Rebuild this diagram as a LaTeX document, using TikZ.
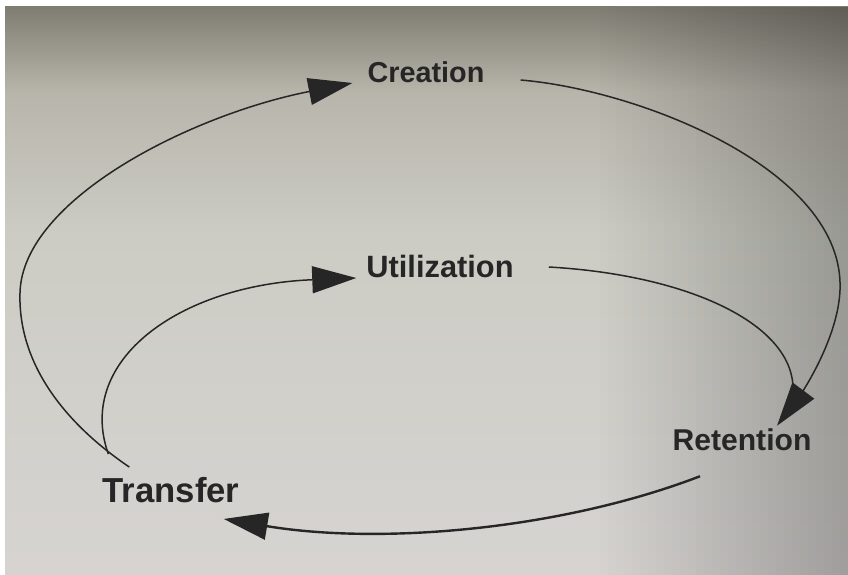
\documentclass[tikz,border=0pt]{standalone}
\usepackage{fontspec}
\setmainfont{Liberation Sans}
\usetikzlibrary{arrows.meta}
\definecolor{ink}{RGB}{38,38,38}
\pgfdeclareverticalshading{screen}{100bp}{rgb(0bp)=(0.84,0.83,0.82); rgb(25bp)=(0.84,0.83,0.82); rgb(55bp)=(0.80,0.80,0.77); rgb(67.5bp)=(0.72,0.71,0.67); rgb(75bp)=(0.50,0.49,0.45); rgb(100bp)=(0.50,0.49,0.45)}

\begin{document}
\begin{tikzpicture}[x=1pt, y=-1pt,
        lbl/.style={font=\bfseries\fontsize{#1}{#1}\selectfont, text=ink, inner sep=0pt},
        flow/.style={draw=ink, line width=1.5pt, -{Triangle[length=44pt,width=27pt]}}
    ]
    \useasboundingbox (0,0) rectangle (848,575);
    \fill[white] (0,0) rectangle (848,575);
    \shade[shading=screen] (5,7) rectangle (848,575);
    \foreach \i [evaluate=\i as \op using 0.008*\i] in {1,...,31}
        \fill[black, opacity=\op] (592+8*\i,7) rectangle +(8,568);

    \node[lbl=28.8] (creation) at (426,72) {Creation};
    \node[lbl=30.8] (utilization) at (440,266) {Utilization};
    \node[lbl=30.1] (retention) at (742,440) {Retention};
    \node[lbl=34.7] (transfer) at (171,490) {Transfer};

    \draw[flow] ([shift={(36,8)}]creation.east) .. controls (640,90) and (845,170) .. (840,290)
        .. controls (838,340) and (800,395) .. ([shift={(35,-3)}]retention.north);
    \draw[ink, line width=1.5pt] ([shift={(35,1)}]utilization.east) .. controls (690,275) and (795,325) .. ([shift={(51,-38)}]retention.north);
    \draw[flow, line width=2.4pt] ([shift={(-42,25)}]retention.south) .. controls (560,530) and (380,545) .. ([shift={(-16,16)}]transfer.south east);
    \draw[flow] ([shift={(27,-10)}]transfer.north west) .. controls (60,420) and (18,360) .. (20,293)
        .. controls (22,200) and (190,115) .. ([shift={(-15,11)}]creation.west);
    \draw[flow] ([shift={(6,-23)}]transfer.north west) .. controls (75,360) and (180,285) .. ([shift={(-10,12)}]utilization.west);
\end{tikzpicture}
\end{document}
